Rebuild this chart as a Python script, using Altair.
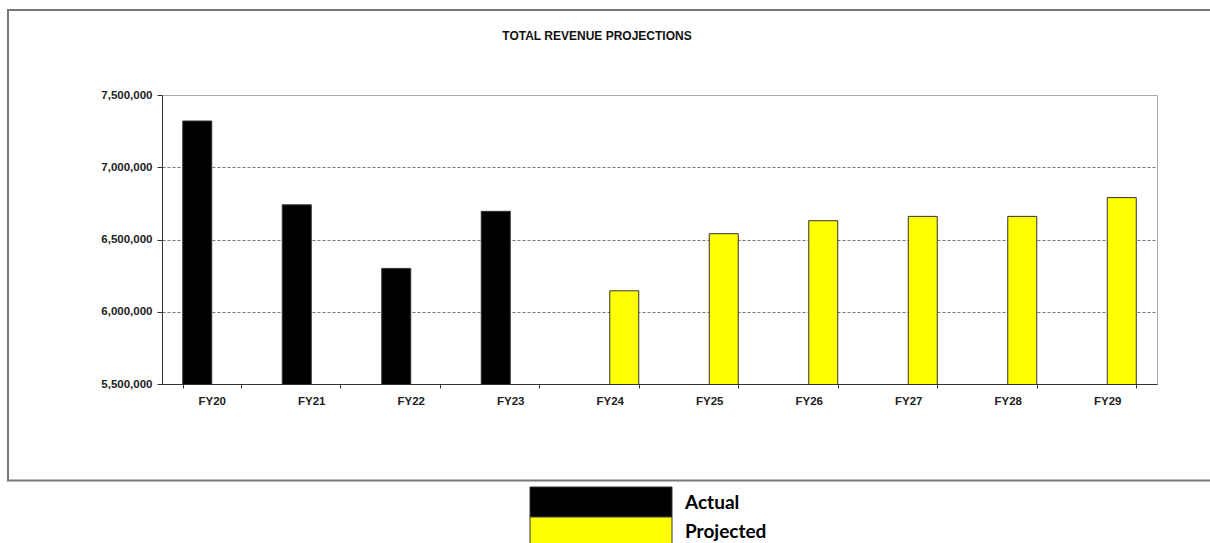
import altair as alt
import pandas as pd

# ---- data ----
fiscal_years = ["FY20", "FY21", "FY22", "FY23", "FY24", "FY25", "FY26", "FY27", "FY28", "FY29"]
series_of_year = ["Actual", "Actual", "Actual", "Actual",
                  "Projected", "Projected", "Projected", "Projected", "Projected", "Projected"]
revenue = [7320000, 6740000, 6300000, 6695000, 6145000, 6540000, 6630000, 6660000, 6660000, 6790000]
series_names = ["Actual", "Projected"]
series_colors = ["#000000", "#FFFF00"]
y_ticks = [5500000, 6000000, 6500000, 7000000, 7500000]
chart_title = "TOTAL REVENUE PROJECTIONS"

df = pd.DataFrame({"fy": fiscal_years, "series": series_of_year, "revenue": revenue})

W, H = 995, 289
LEFT, TOP = 162, 95

bars = alt.Chart(df).mark_bar(stroke="#333333", strokeWidth=1, clip=True).encode(
    x=alt.X("fy:N", sort=fiscal_years, title=None,
            scale=alt.Scale(paddingInner=0.417, paddingOuter=0.2085),
            axis=alt.Axis(labelAngle=0, tickBand="extent", tickSize=4, tickColor="#333333",
                          domainColor="#333333", labelPadding=7, labelFont="Liberation Sans",
                          labelFontWeight="bold", labelFontSize=11.5, labelColor="#222222")),
    xOffset=alt.XOffset("series:N", scale=alt.Scale(domain=series_names, paddingInner=0, paddingOuter=0)),
    y=alt.Y("revenue:Q", title=None,
            scale=alt.Scale(domain=[y_ticks[0], y_ticks[-1]], nice=False, zero=False),
            axis=alt.Axis(values=y_ticks, format=",d", grid=True, gridDash=[3, 2], gridColor="#777777",
                          gridOpacity={"condition": {"test": "datum.value >= 7500000", "value": 0}, "value": 1},
                          tickSize=5, tickColor="#333333", domainColor="#333333", labelPadding=5,
                          labelFont="Liberation Sans", labelFontWeight="bold", labelFontSize=11.5,
                          labelColor="#222222")),
    color=alt.Color("series:N", scale=alt.Scale(domain=series_names, range=series_colors), legend=None),
)

one = pd.DataFrame({"t": [chart_title]})

title = alt.Chart(one).mark_text(font="Liberation Sans", fontWeight="bold", fontSize=12,
                                 color="#111111", align="center", baseline="alphabetic").encode(
    x=alt.value(597 - LEFT), y=alt.value(40 - TOP), text="t:N")

frame = alt.Chart(one).mark_rect(fill="transparent", stroke="#777777", strokeWidth=2).encode(
    x=alt.value(8 - LEFT), x2=alt.value(1214 - LEFT), y=alt.value(10 - TOP), y2=alt.value(480.5 - TOP))

layers = [frame, bars, title]

legend_rows = [(487, 517), (517, 549)]
legend_text_y = [503, 532]
for name, color, (y0, y1), ty in zip(series_names, series_colors, legend_rows, legend_text_y):
    d = pd.DataFrame({"name": [name]})
    layers.append(alt.Chart(d).mark_rect(fill=color, stroke="#333333", strokeWidth=1).encode(
        x=alt.value(530 - LEFT), x2=alt.value(672 - LEFT), y=alt.value(y0 - TOP), y2=alt.value(y1 - TOP)))
    layers.append(alt.Chart(d).mark_text(font="Lato", fontWeight="bold", fontSize=19, color="#000000",
                                         align="left", baseline="middle").encode(
        x=alt.value(685 - LEFT), y=alt.value(ty - TOP), text="name:N"))

chart = alt.layer(*layers).properties(
    width=W, height=H,
    autosize=alt.AutoSizeParams(type="none"),
    padding={"left": LEFT, "top": TOP, "right": 1210 - LEFT - W, "bottom": 543 - TOP - H},
    background="white",
).configure_view(stroke="#aaaaaa", strokeWidth=1)

chart.save("out.html", embed_options={"renderer": "svg", "actions": False})
